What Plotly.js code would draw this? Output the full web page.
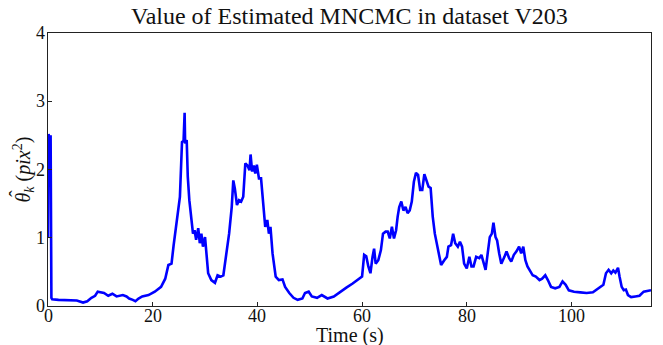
<!DOCTYPE html>
<html>
<head>
<meta charset="utf-8">
<script src="https://cdn.plot.ly/plotly-3.0.1.min.js"></script>
<style>html,body{margin:0;padding:0;background:#fff;}#chart{width:663px;height:345px;}</style>
</head>
<body>
<div id="chart"></div>
<script>
const timeSec = [0,0.1,0.35,0.5,0.65,0.8,2,4,5.5,6.7,7.5,8.3,9,9.5,10.1,10.7,11.5,12.3,13.1,13.7,14.3,15,15.5,16.2,16.7,17.3,18,19.2,20.4,21.6,22.4,23,23.6,24,24.4,24.8,25.2,25.6,25.9,26.1,26.2,26.5,26.7,27,27.4,27.7,28,28.3,28.7,29,29.3,29.6,30,30.3,30.6,31.2,31.9,32.4,33,33.5,34.1,34.6,35.1,35.4,35.7,36.1,36.5,36.9,37.3,37.7,38.1,38.5,38.7,39,39.3,39.6,39.9,40.3,40.7,41.1,41.5,41.9,42.2,42.5,42.9,43.5,44.1,44.8,45.3,46.1,46.9,47.7,48.6,49.1,49.8,50.4,51.4,52.3,53.4,54.6,55.8,57,58.2,59.4,60,60.4,60.8,61.2,61.6,62,62.3,62.6,63.1,63.6,64,64.5,64.9,65.3,65.7,66.1,66.5,66.8,67.1,67.5,67.9,68.3,68.7,69.1,69.5,69.9,70.3,70.7,71.1,71.5,71.9,72.3,72.7,73.1,73.5,73.9,74.3,74.7,75.1,75.7,76.2,76.5,77,77.4,77.8,78.3,78.7,79.1,79.5,80,80.5,80.9,81.3,81.8,82.4,82.8,83.2,83.6,84,84.4,84.8,85.1,85.5,85.8,86.2,86.6,87.2,87.6,88.1,88.5,89,89.5,90,90.4,90.8,91.2,91.6,92,92.6,93.2,93.9,94.4,95,95.5,96.1,96.9,97.7,98.3,98.9,99.5,100.5,101.7,102.9,104.1,105.3,106.1,106.6,107.1,107.6,108,108.4,108.9,109.2,109.6,110,110.4,110.8,111.4,112.2,113,113.8,114.6,115.2];
const mncmc = [1.0,2.52,2.45,2.5,0.12,0.10,0.09,0.09,0.08,0.05,0.07,0.12,0.15,0.21,0.2,0.19,0.15,0.18,0.14,0.15,0.16,0.14,0.11,0.09,0.07,0.11,0.14,0.16,0.21,0.28,0.40,0.6,0.62,0.89,1.14,1.31,1.6,2.4,2.42,2.83,2.38,2.43,1.9,1.55,1.26,1.06,1.11,0.97,1.14,0.92,1.06,0.87,1.01,0.77,0.48,0.38,0.34,0.45,0.43,0.45,0.77,1.06,1.45,1.84,1.72,1.48,1.55,1.53,1.6,2.09,2.06,1.99,2.22,1.97,2.06,1.94,2.07,1.87,1.87,1.55,1.16,1.26,1.06,1.16,0.77,0.43,0.38,0.39,0.28,0.19,0.12,0.09,0.11,0.19,0.21,0.14,0.12,0.16,0.11,0.14,0.21,0.27,0.33,0.40,0.43,0.75,0.73,0.58,0.48,0.72,0.84,0.62,0.67,0.82,1.06,1.09,1.09,0.99,1.16,0.99,1.11,1.31,1.45,1.53,1.40,1.45,1.36,1.40,1.53,1.82,1.95,1.92,1.70,1.70,1.93,1.84,1.75,1.73,1.31,1.06,0.92,0.77,0.6,0.67,0.72,0.87,0.89,1.06,0.92,0.87,0.94,0.87,0.62,0.55,0.72,0.58,0.58,0.72,0.70,0.75,0.62,0.53,0.77,1.01,1.06,1.22,1.01,0.96,0.77,0.62,0.72,0.80,0.70,0.65,0.75,0.80,0.87,0.77,0.87,0.67,0.58,0.53,0.45,0.43,0.38,0.40,0.45,0.38,0.28,0.26,0.28,0.36,0.31,0.23,0.21,0.20,0.19,0.20,0.26,0.31,0.48,0.53,0.48,0.52,0.49,0.56,0.43,0.28,0.23,0.24,0.16,0.13,0.14,0.15,0.21,0.22,0.23];
const xTicks = [0,20,40,60,80,100];
const yTicks = [0,1,2,3,4];
const titleText = 'Value of Estimated MNCMC in dataset V203';
const xTitle = 'Time (s)';
const yTitle = '<i>θ</i><sub><i>k</i></sub> (<i>pix</i><sup>2</sup>)';

const serif = "Liberation Serif";
const ink = '#111';
const trace = {
  x: timeSec, y: mncmc, type: 'scatter', mode: 'lines',
  line: {color: '#0000ff', width: 2.6},
  hoverinfo: 'skip'
};
const annotations = [];
xTicks.forEach(v => annotations.push({
  text: String(v), x: v, xref: 'x', y: 0, yref: 'paper',
  xanchor: 'center', yanchor: 'top', yshift: 2, showarrow: false,
  font: {family: serif, size: 18, color: ink}
}));
yTicks.forEach(v => annotations.push({
  text: String(v), x: 0, xref: 'paper', y: v, yref: 'y',
  xanchor: 'right', yanchor: 'middle', xshift: -1, showarrow: false,
  font: {family: serif, size: 18, color: ink}
}));
annotations.push({
  text: xTitle, x: 0.5, xref: 'paper', y: 0, yref: 'paper',
  xanchor: 'center', yanchor: 'top', yshift: -16, showarrow: false,
  font: {family: serif, size: 20, color: ink}
});
annotations.push({
  text: yTitle, textangle: -90, x: 0, xref: 'paper', y: 0.5, yref: 'paper',
  xanchor: 'center', yanchor: 'middle', xshift: -25, showarrow: false,
  font: {family: serif, size: 20, color: ink}
});
annotations.push({
  text: 'ˆ', textangle: -90, x: 0, xref: 'paper', y: 0.41, yref: 'paper',
  xanchor: 'center', yanchor: 'middle', xshift: -31, showarrow: false,
  font: {family: serif, size: 20, color: ink}
});

const layout = {
  width: 663, height: 345,
  margin: {l: 47.5, r: 11.5, t: 32.5, b: 39},
  paper_bgcolor: '#fff', plot_bgcolor: '#fff',
  showlegend: false,
  font: {family: serif, color: ink, size: 18},
  title: {text: titleText, font: {family: serif, size: 24, color: ink}, x: 0.527, xanchor: 'center', y: 0.955, yanchor: 'middle'},
  xaxis: {
    range: [0, 115.2], tickvals: xTicks, showticklabels: false,
    ticks: 'inside', ticklen: 4, tickcolor: '#222', tickwidth: 1,
    showgrid: false, zeroline: false, showline: true, linecolor: '#222', linewidth: 1.3, mirror: true
  },
  yaxis: {
    range: [0, 4], tickvals: yTicks, showticklabels: false,
    ticks: 'inside', ticklen: 4, tickcolor: '#222', tickwidth: 1,
    showgrid: false, zeroline: false, showline: true, linecolor: '#222', linewidth: 1.3, mirror: true
  },
  annotations: annotations
};
Plotly.newPlot('chart', [trace], layout, {displayModeBar: false, staticPlot: true});
</script>
</body>
</html>
